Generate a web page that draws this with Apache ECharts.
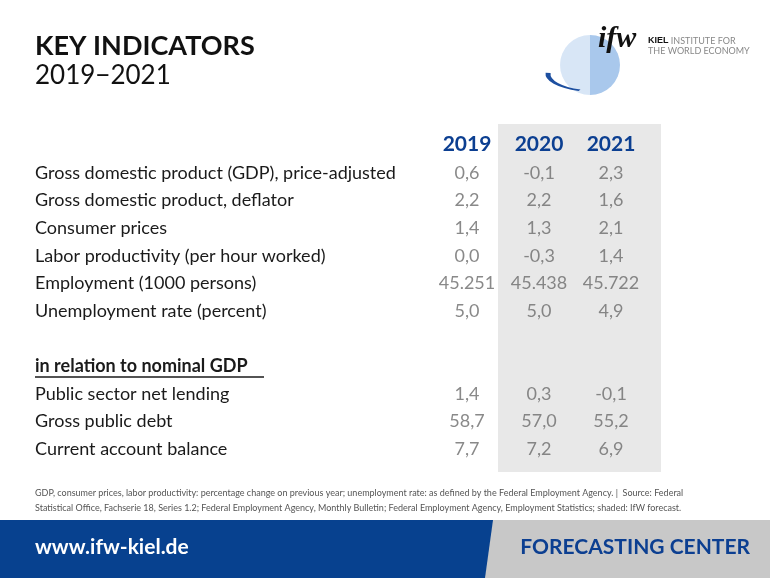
<!DOCTYPE html>
<html><head><meta charset="utf-8">
<script src="https://cdn.jsdelivr.net/npm/echarts@6/dist/echarts.min.js"></script>
<style>html,body{margin:0;padding:0;background:#fff}#c{width:770px;height:578px}</style>
</head><body><div id="c"></div>
<script>
const years = ["2019", "2020", "2021"];
const rows = [
  "Gross domestic product (GDP), price-adjusted",
  "Gross domestic product, deflator",
  "Consumer prices",
  "Labor productivity (per hour worked)",
  "Employment (1000 persons)",
  "Unemployment rate (percent)",
  " ",
  "in relation to nominal GDP",
  "Public sector net lending",
  "Gross public debt",
  "Current account balance"
];
const v2019 = ["0,6", "2,2", "1,4", "0,0", "45.251", "5,0", null, null, "1,4", "58,7", "7,7"];
const v2020 = ["-0,1", "2,2", "1,3", "-0,3", "45.438", "5,0", null, null, "0,3", "57,0", "7,2"];
const v2021 = ["2,3", "1,6", "2,1", "1,4", "45.722", "4,9", null, null, "-0,1", "55,2", "6,9"];
const valueSets = [v2019, v2020, v2021];

const FONT = "Lato, 'Open Sans', sans-serif";
const chart = echarts.init(document.getElementById('c'));
const series = years.map((y, k) => ({
  type: 'scatter', symbolSize: 0, silent: true,
  data: valueSets[k].map((v, i) => v === null ? null : [y, rows[i], v]).filter(d => d),
  label: { show: true, position: 'inside', formatter: p => p.value[2], color: '#6b6b6b', fontSize: 18, fontFamily: FONT }
}));
chart.setOption({
  animation: false,
  grid: { left: 431, width: 216, top: 159, height: 304 },
  xAxis: { type: 'category', data: years, position: 'top',
    axisLine: { show: false }, axisTick: { show: false }, splitLine: { show: false },
    axisLabel: { color: '#0c3f91', fontWeight: 'bold', fontSize: 21, fontFamily: FONT, margin: 4 } },
  yAxis: { type: 'category', data: rows, inverse: true,
    axisLine: { show: false }, axisTick: { show: false }, splitLine: { show: false },
    axisLabel: { align: 'left', margin: 396, color: '#1a1a1a', fontSize: 18, fontFamily: FONT,
      formatter: v => v === 'in relation to nominal GDP' ? '{b|' + v + '}' : v,
      rich: { b: { fontWeight: 'bold', fontSize: 18, color: '#1a1a1a', fontFamily: FONT } } } },
  series: series,
  graphic: [
    { type: 'rect', z: -10, shape: { x: 498, y: 124, width: 163, height: 348 }, style: { fill: '#e8e8e8' } },
    { type: 'line', shape: { x1: 35, y1: 377, x2: 264, y2: 377 }, style: { stroke: '#1a1a1a', lineWidth: 1.5 } },
    { type: 'text', left: 35, top: 33, style: { text: 'KEY INDICATORS', font: 'bold 27px ' + FONT, fill: '#111' } },
    { type: 'text', left: 35, top: 63, style: { text: '2019\u22122021', font: '26px ' + FONT, fill: '#111' } },
    { type: 'text', left: 35, top: 486, style: { text: 'GDP, consumer prices, labor productivity: percentage change on previous year; unemployment rate: as defined by the Federal Employment Agency. |  Source: Federal\nStatistical Office, Fachserie 18, Series 1.2; Federal Employment Agency, Monthly Bulletin; Federal Employment Agency, Employment Statistics; shaded: IfW forecast.', font: '9px ' + FONT, fill: '#555', lineHeight: 15 } },
    { type: 'rect', shape: { x: 0, y: 520, width: 770, height: 58 }, style: { fill: '#c8c8c8' } },
    { type: 'polygon', shape: { points: [[0, 520], [493, 520], [485, 578], [0, 578]] }, style: { fill: '#07418f' } },
    { type: 'text', left: 35, top: 537, style: { text: 'www.ifw-kiel.de', font: 'bold 21px ' + FONT, fill: '#fff' } },
    { type: 'text', right: 20, top: 537, style: { text: 'FORECASTING CENTER', font: 'bold 21px ' + FONT, fill: '#0c3f91' } },
    // logo
    { type: 'circle', shape: { cx: 590, cy: 65, r: 30 }, style: { fill: '#a9c8ec' } },
    { type: 'rect', shape: { x: 555, y: 30, width: 35, height: 70 }, style: { fill: '#fff', opacity: 0.55 } },
    { type: 'arc', shape: { cx: 598, cy: 74, r: 50, startAngle: Math.PI * 0.62, endAngle: Math.PI * 1.02 }, style: { stroke: '#1d4fa0', lineWidth: 5, fill: null }, scaleY: 0.35, originY: 74 },
    { type: 'text', left: 598, top: 24, style: { text: 'ifw', font: 'italic bold 30px serif', fill: '#111' } },
    { type: 'text', left: 648, top: 36, style: { text: '{k|KIEL} INSTITUTE FOR\nTHE WORLD ECONOMY', font: '9px ' + FONT, fill: '#888', lineHeight: 10, rich: { k: { fontWeight: 'bold', fill: '#111', fontSize: 9 } } } }
  ]
});
</script></body></html>
